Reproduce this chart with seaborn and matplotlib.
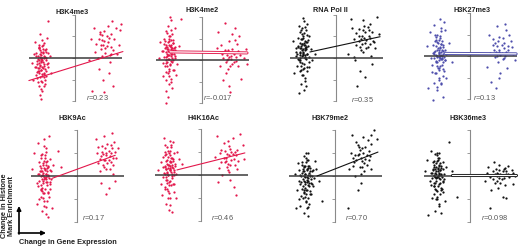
import numpy as np
import pandas as pd
import seaborn as sns
import matplotlib.pyplot as plt

# ---- data: (change in expression, change in mark) ----
titles = ['H3K4me3', 'H3K4me2', 'RNA Pol II', 'H3K27me3',
          'H3K9Ac', 'H4K16Ac', 'H3K79me2', 'H3K36me3']
r_values = ['0.23', '-0.017', '0.35', '0.13', '0.17', '0.46', '0.70', '0.098']

k4me3_left = [(-1.52,-0.15),(-1.41,0.22),(-1.63,-0.48),(-1.48,-0.82),(-1.35,0.05),(-1.58,0.51),(-1.71,-0.3),(-1.45,-1.12),(-1.29,-0.6),(-1.55,0.36),(-1.66,-0.05),(-1.38,-0.35),(-1.5,-1.45),(-1.84,0.18),(-1.22,-0.22),(-1.47,0.85),(-1.6,-0.7),(-1.33,-1.0),(-1.75,-0.42),(-1.43,0.62),(-1.56,-1.7),(-1.12,0.1),(-1.68,-0.95),(-1.39,-0.02),(-1.51,-0.55),(-1.9,-0.25),(-1.27,0.42),(-1.62,-1.3),(-1.44,0.3),(-1.36,-0.75),(-1.58,-0.1),(-1.49,-1.9),(-1.8,0.75),(-1.18,-0.4),(-1.54,1.1),(-1.65,-0.62),(-1.31,0.28),(-1.46,-1.55),(-1.72,0.08),(-1.4,-0.88),(-1.57,-0.32),(-1.05,-0.68),(-1.61,0.45),(-1.34,-1.2),(-1.5,0.0),(-1.87,-1.0),(-1.2,1.7),(-1.43,-0.45),(-1.25,0.95),(-1.53,-0.2)]
k4me3_core = [(-1.45,-0.1),(-1.55,0.05),(-1.4,-0.3),(-1.6,-0.25),(-1.5,0.15),(-1.35,-0.5),(-1.65,0.1),(-1.42,0.4),(-1.58,-0.6),(-1.48,-0.4),(-1.3,0.0),(-1.7,-0.15),(-1.52,0.3),(-1.38,-0.7),(-1.62,-0.45),(-1.45,0.55),(-1.55,-0.9),(-1.25,-0.3),(-1.75,0.25),(-1.4,0.1),(-1.5,-0.55),(-1.6,0.6),(-1.33,0.35),(-1.47,-0.75),(-1.68,-0.65),(-1.43,-0.2),(-1.57,0.2),(-1.28,-0.1),(-1.52,-1.05),(-1.8,-0.4),(-1.36,0.7),(-1.64,-1.1),(-1.46,0.0),(-1.54,-0.35),(-1.2,0.25),(-1.72,-0.8),(-1.4,-1.3),(-1.58,0.45),(-1.3,-0.85),(-1.5,-0.05)]
k4me3_right = [(1.3,0.8),(1.1,1.2),(1.6,0.5),(0.9,0.3),(1.45,1.5),(1.75,0.9),(1.2,0.1),(2.0,1.3),(0.7,0.9),(1.55,-0.2),(1.35,0.45),(1.05,-0.5),(1.85,0.2),(0.6,-0.1),(1.4,1.0),(1.65,1.7),(1.15,0.6),(1.95,0.6),(1.25,-1.0),(0.85,1.4),(1.5,-0.7),(1.7,-1.3),(1.0,0.0),(1.3,-1.6),(0.75,-1.55),(2.05,1.6),(1.6,0.2),(1.2,1.05)]
k4me3_dense = [(1.25,0.6),(1.45,0.75),(1.05,0.9),(1.6,1.1),(1.35,0.25),(1.15,0.4),(1.5,0.95),(0.95,0.65),(1.7,0.35),(1.3,1.25),(1.4,0.55),(1.1,1.1),(1.55,0.15),(1.2,0.85),(1.8,1.4)]

k4me2_left = [(-1.42,0.35),(-1.3,0.8),(-1.55,-0.1),(-1.6,0.6),(-1.35,1.2),(-1.48,-0.5),(-1.2,0.2),(-1.7,1.0),(-1.38,-0.9),(-1.52,1.6),(-1.25,0.55),(-1.65,-0.3),(-1.45,0.05),(-1.1,-0.2),(-1.8,0.4),(-1.33,-1.3),(-1.58,1.35),(-1.4,0.7),(-1.5,-1.7),(-1.28,0.95),(-1.62,0.15),(-1.75,-0.75),(-1.44,2.0),(-1.18,0.45),(-1.36,-0.05),(-1.55,0.28),(-1.9,0.1),(-1.47,-1.1),(-1.22,1.5),(-1.68,0.75),(-1.32,0.4),(-1.5,-0.6),(-1.02,0.65),(-1.6,-2.0),(-1.4,1.85),(-1.26,-0.45),(-1.57,0.5),(-1.45,0.9),(-1.72,-0.15),(-1.3,0.0),(-1.48,1.1),(-1.15,-0.7),(-1.62,-1.45),(-1.38,0.6),(-1.52,0.22),(-1.85,0.85),(-1.43,-0.25),(-1.34,0.3),(-0.95,1.9),(-1.58,-0.95)]
k4me2_core = [(-1.4,0.3),(-1.5,0.5),(-1.35,0.1),(-1.55,0.2),(-1.45,0.7),(-1.3,0.45),(-1.6,0.0),(-1.42,-0.2),(-1.52,0.85),(-1.25,0.3),(-1.65,0.55),(-1.38,0.95),(-1.48,-0.4),(-1.58,0.35),(-1.33,-0.1),(-1.7,0.15),(-1.44,1.1),(-1.2,0.6),(-1.62,-0.55),(-1.4,0.5),(-1.5,0.05),(-1.28,0.8),(-1.55,1.25),(-1.46,-0.75),(-1.36,0.2),(-1.75,0.4),(-1.42,0.65),(-1.58,-0.15),(-1.3,-0.45),(-1.5,0.4),(-1.65,0.9),(-1.38,1.4),(-1.22,0.1),(-1.54,-0.3),(-1.45,0.25),(-1.6,0.7),(-1.35,0.55),(-1.48,1.0),(-1.4,-1.0),(-1.56,0.6)]
k4me2_right = [(1.15,0.05),(0.9,0.3),(1.35,-0.2),(1.6,0.4),(0.7,1.3),(1.2,0.9),(1.85,0.1),(1.05,-0.6),(1.45,1.5),(0.8,-0.3),(1.3,0.2),(1.75,-0.9),(1.0,1.7),(1.55,0.75),(1.2,-1.2),(0.65,0.55),(1.95,0.5),(1.4,-0.1),(1.1,0.0),(1.25,-1.5),(1.65,1.1),(0.95,-0.95),(1.5,0.15),(2.0,-0.2),(1.35,1.2),(1.15,0.45)]
k4me2_dense = [(1.2,0.15),(1.05,-0.1),(1.3,0.05),(1.4,0.3),(1.1,0.25),(1.25,-0.3),(0.95,0.1),(1.5,-0.05),(1.35,0.5),(1.15,-0.4),(1.6,-0.3),(0.85,0.7),(1.45,0.95),(1.0,0.45),(1.7,0.25)]

pol2_left = [(-1.47,0.3),(-1.35,0.75),(-1.6,-0.1),(-1.52,1.1),(-1.28,0.2),(-1.7,0.55),(-1.42,-0.45),(-1.55,0.9),(-1.2,-0.2),(-1.65,1.5),(-1.4,0.05),(-1.8,0.3),(-1.33,1.3),(-1.5,-0.8),(-1.6,0.45),(-1.25,0.85),(-1.45,1.85),(-1.73,-0.35),(-1.38,0.6),(-1.57,-1.2),(-1.1,0.4),(-1.48,0.15),(-1.9,0.8),(-1.3,-0.6),(-1.62,1.2),(-1.43,-1.5),(-1.52,0.65),(-1.18,1.0),(-1.68,-0.05),(-1.37,0.35),(-1.55,-0.55),(-1.27,1.6),(-1.45,0.95),(-1.78,0.1),(-1.4,-0.95),(-1.6,0.25),(-1.32,0.5),(-1.5,1.4),(-1.05,-0.1),(-1.65,-1.65),(-1.42,0.7),(-1.22,-0.4),(-1.58,0.0),(-1.35,-1.3),(-1.48,0.4),(-1.85,-0.7),(-1.3,1.05),(-1.53,-0.25),(-0.95,0.2),(-1.44,1.7)]
pol2_core = [(-1.45,0.25),(-1.55,0.45),(-1.4,0.0),(-1.6,0.15),(-1.5,0.65),(-1.35,0.4),(-1.65,-0.1),(-1.42,-0.3),(-1.52,0.9),(-1.3,0.2),(-1.7,0.5),(-1.38,0.8),(-1.48,-0.5),(-1.58,0.3),(-1.33,-0.05),(-1.75,0.2),(-1.44,1.15),(-1.25,0.55),(-1.62,-0.6),(-1.4,0.45),(-1.5,0.1),(-1.28,0.75),(-1.55,1.3),(-1.46,-0.8),(-1.36,0.15),(-1.8,0.45),(-1.42,0.6),(-1.58,-0.2),(-1.3,-0.4),(-1.5,0.35),(-1.68,0.95),(-1.4,1.45),(-1.2,0.05),(-1.54,-0.35),(-1.45,0.2),(-1.62,0.7),(-1.35,0.5),(-1.48,1.0),(-1.4,-1.05),(-1.56,0.55)]
pol2_right = [(1.1,0.9),(1.3,1.2),(0.9,0.6),(1.5,1.6),(1.2,0.3),(0.7,1.4),(1.65,0.8),(1.0,1.0),(1.4,0.5),(1.8,1.9),(0.55,0.2),(1.25,1.5),(1.55,0.1),(0.85,-0.1),(1.35,0.85),(1.9,1.1),(1.05,-0.6),(1.45,1.3),(0.65,1.8),(1.6,-0.3),(1.15,0.65),(1.75,0.45),(0.95,-1.3),(1.3,-0.9),(1.2,1.75),(1.5,0.95),(0.8,0.05),(1.0,1.35)]
pol2_dense = [(1.15,1.0),(1.3,0.7),(1.0,0.8),(1.45,1.0),(1.2,1.3),(0.9,1.15),(1.35,0.45),(1.6,1.2),(1.05,0.5),(1.25,0.95),(1.5,0.65),(0.8,0.9),(1.4,1.45),(1.1,0.35),(1.7,0.75)]

k27me3_left = [(-1.33,0.0),(-1.2,0.4),(-1.45,-0.3),(-1.5,0.9),(-1.15,-0.7),(-1.6,0.2),(-1.3,1.3),(-1.4,-1.1),(-1.05,0.1),(-1.7,-0.4),(-1.25,0.7),(-1.55,-0.8),(-1.35,1.7),(-1.1,-0.2),(-1.65,0.5),(-1.45,-1.6),(-1.22,0.25),(-1.8,1.1),(-1.38,-0.55),(-1.5,0.05),(-0.95,0.6),(-1.28,-1.3),(-1.6,1.45),(-1.42,0.35),(-1.18,-0.95),(-1.75,-0.1),(-1.32,0.95),(-1.5,-0.25),(-1.1,1.2),(-1.62,-1.25),(-1.36,0.15),(-1.25,-0.4),(-1.9,0.45),(-1.45,0.65),(-1.2,-1.9),(-1.55,1.0),(-1.3,-0.15),(-1.7,-0.75),(-1.4,0.3),(-0.8,-0.3),(-1.58,0.1),(-1.15,1.6),(-1.48,-1.45),(-1.28,0.55),(-1.65,-2.05),(-1.38,-0.05),(-1.05,-1.0),(-1.52,0.75),(-1.85,-1.5),(-1.25,0.0)]
k27me3_core = [(-1.3,0.05),(-1.4,0.2),(-1.25,-0.15),(-1.45,-0.05),(-1.35,0.4),(-1.2,0.1),(-1.5,-0.3),(-1.32,-0.45),(-1.42,0.6),(-1.15,-0.05),(-1.55,0.25),(-1.28,0.55),(-1.38,-0.65),(-1.48,0.0),(-1.22,-0.3),(-1.6,-0.1),(-1.34,0.85),(-1.1,0.3),(-1.52,-0.8),(-1.3,0.2),(-1.4,-0.2),(-1.18,0.5),(-1.45,1.0),(-1.36,-1.0),(-1.26,-0.1),(-1.65,0.15),(-1.32,0.35),(-1.48,-0.45),(-1.2,-0.6),(-1.4,0.1),(-1.55,0.7),(-1.3,1.15),(-1.12,-0.2),(-1.44,-0.55),(-1.35,-0.1),(-1.5,0.45),(-1.25,0.3),(-1.38,0.75),(-1.3,-1.25),(-1.46,0.3)]
k27me3_right = [(1.3,0.2),(1.1,0.6),(1.5,-0.1),(0.85,1.0),(1.7,0.45),(1.2,1.4),(1.45,0.85),(0.75,-0.5),(1.9,0.1),(1.35,-0.8),(1.05,0.3),(1.6,1.2),(1.25,-0.3),(0.95,-1.2),(1.8,0.7),(1.4,0.5),(1.15,-1.5),(2.0,-0.2),(1.55,1.5),(0.9,0.15),(1.3,-1.0),(1.65,-0.55),(1.0,0.8),(1.75,1.0),(1.2,0.0),(1.5,0.35)]
k27me3_dense = [(1.3,0.3),(1.4,0.15),(1.2,0.45),(1.5,0.6),(1.1,-0.05),(1.35,0.05),(1.6,0.2),(1.25,0.7),(1.45,-0.15),(1.0,0.5),(1.7,0.3),(1.15,0.2),(1.55,0.0),(1.3,0.9),(1.85,0.4)]

k9ac_left = [(-1.42,-0.1),(-1.3,0.4),(-1.55,-0.5),(-1.6,0.8),(-1.25,-0.9),(-1.7,0.1),(-1.38,1.2),(-1.48,-1.3),(-1.15,0.2),(-1.8,-0.3),(-1.35,0.65),(-1.5,-0.75),(-1.45,1.6),(-1.2,-0.35),(-1.65,0.45),(-1.4,-1.65),(-1.28,0.0),(-1.9,1.0),(-1.52,-0.2),(-1.33,-1.1),(-1.05,0.5),(-1.62,-0.6),(-1.44,0.25),(-1.75,1.45),(-1.22,-0.55),(-1.58,0.9),(-1.36,-0.25),(-1.5,0.55),(-1.1,-1.4),(-1.68,-1.0),(-1.4,0.1),(-1.3,-0.7),(-2.0,0.3),(-1.48,1.3),(-1.18,0.75),(-1.56,-1.5),(-1.34,0.35),(-1.72,-0.45),(-1.46,-0.05),(-0.85,1.1),(-1.62,0.2),(-1.26,1.75),(-1.5,-0.95),(-1.38,0.6),(-1.8,-1.2),(-1.15,-0.15),(-1.54,0.05),(-1.3,-1.8),(-1.42,0.9),(-0.7,0.4)]
k9ac_core = [(-1.4,-0.05),(-1.5,0.15),(-1.35,-0.25),(-1.55,-0.15),(-1.45,0.35),(-1.3,0.05),(-1.6,-0.4),(-1.42,-0.55),(-1.52,0.5),(-1.25,-0.1),(-1.65,0.2),(-1.38,0.5),(-1.48,-0.75),(-1.58,0.0),(-1.33,-0.4),(-1.7,-0.2),(-1.44,0.8),(-1.2,0.25),(-1.62,-0.9),(-1.4,0.1),(-1.5,-0.3),(-1.28,0.45),(-1.55,0.95),(-1.46,-1.1),(-1.36,-0.15),(-1.75,0.1),(-1.42,0.3),(-1.58,-0.55),(-1.3,-0.75),(-1.5,0.05),(-1.68,0.6),(-1.38,1.05),(-1.22,-0.25),(-1.54,-0.65),(-1.45,-0.15),(-1.62,0.35),(-1.35,0.2),(-1.48,0.65),(-1.4,-1.35),(-1.56,0.2)]
k9ac_right = [(1.3,0.9),(1.1,1.3),(1.5,0.6),(0.9,1.0),(1.65,1.5),(1.2,0.4),(1.4,1.1),(1.75,0.8),(1.0,0.2),(1.55,1.85),(1.25,0.7),(0.85,1.6),(1.6,0.1),(1.35,1.4),(1.05,-0.3),(1.8,1.2),(1.45,0.3),(1.15,0.95),(0.95,0.55),(1.7,-0.2),(1.3,-0.8),(1.5,1.0),(1.2,1.75),(1.4,-0.5),(1.0,0.75),(1.6,0.5)]
k9ac_dense = [(1.3,1.0),(1.2,0.7),(1.45,0.85),(1.1,1.05),(1.35,0.55),(1.55,1.2),(1.25,1.2),(1.4,0.7),(1.05,0.85),(1.6,0.8),(1.15,0.5),(1.5,1.35),(1.3,0.3),(0.95,1.25),(1.7,1.05)]

k16ac_left = [(-1.38,0.2),(-1.25,0.6),(-1.5,-0.2),(-1.55,0.9),(-1.2,-0.4),(-1.62,0.35),(-1.32,1.2),(-1.45,-0.7),(-1.1,0.05),(-1.7,-0.1),(-1.3,0.75),(-1.48,-1.0),(-1.4,1.5),(-1.15,0.4),(-1.6,-0.5),(-1.36,-1.3),(-1.22,0.95),(-1.8,0.55),(-1.5,0.1),(-1.28,-0.15),(-1.0,0.7),(-1.58,1.3),(-1.42,0.45),(-1.72,-0.85),(-1.18,-0.75),(-1.52,0.65),(-1.35,-0.45),(-1.45,0.0),(-1.05,1.0),(-1.65,1.6),(-1.4,0.3),(-1.3,-1.6),(-1.9,0.2),(-1.48,1.05),(-1.2,0.15),(-1.55,-1.25),(-1.33,0.55),(-1.68,0.8),(-1.44,-0.3),(-0.85,0.5),(-1.6,0.05),(-1.25,1.45),(-1.5,-0.6),(-1.38,0.85),(-1.78,-0.4),(-1.12,-1.0),(-1.54,0.25),(-1.3,0.35),(-1.42,-1.5),(-1.62,1.0)]
k16ac_core = [(-1.36,0.25),(-1.46,0.45),(-1.3,0.05),(-1.5,0.15),(-1.4,0.6),(-1.25,0.3),(-1.55,-0.1),(-1.38,-0.25),(-1.48,0.8),(-1.2,0.2),(-1.6,0.4),(-1.34,0.75),(-1.44,-0.45),(-1.54,0.25),(-1.28,-0.05),(-1.65,0.1),(-1.4,1.05),(-1.16,0.5),(-1.58,-0.6),(-1.36,0.4),(-1.46,0.0),(-1.24,0.7),(-1.5,1.2),(-1.42,-0.8),(-1.32,0.15),(-1.7,0.35),(-1.38,0.55),(-1.54,-0.2),(-1.26,-0.4),(-1.46,0.3),(-1.62,0.85),(-1.34,1.3),(-1.18,0.0),(-1.5,-0.35),(-1.4,0.2),(-1.56,0.6),(-1.3,0.45),(-1.44,0.95),(-1.36,-1.0),(-1.52,0.5)]
k16ac_right = [(1.1,0.75),(0.9,1.1),(1.3,0.45),(0.7,1.7),(1.5,1.0),(1.2,0.2),(1.0,1.4),(1.65,0.6),(0.8,0.3),(1.4,1.6),(1.15,0.9),(0.6,0.8),(1.85,1.3),(1.3,-0.2),(0.95,0.0),(1.55,0.85),(1.25,1.25),(1.75,1.8),(1.05,0.55),(1.45,-0.5),(0.75,-0.3),(1.6,0.25),(1.9,0.7),(1.2,1.5),(1.35,0.65),(1.55,-0.85)]
k16ac_dense = [(1.1,0.6),(1.25,0.85),(1.0,0.75),(1.35,1.0),(1.2,0.5),(1.45,0.7),(0.9,0.55),(1.3,1.15),(1.15,0.35),(1.5,0.45),(1.05,1.05),(1.4,0.9),(0.85,0.95),(1.6,1.1),(1.25,0.15)]

k79me2_left = [(-1.24,-0.17),(-1.1,0.2),(-1.35,-0.5),(-1.4,0.4),(-1.05,-0.8),(-1.5,0.0),(-1.2,0.7),(-1.3,-1.1),(-0.95,-0.1),(-1.55,-0.35),(-1.15,0.45),(-1.38,-0.75),(-1.28,1.0),(-1.0,-0.45),(-1.6,0.25),(-1.25,-1.4),(-1.12,0.05),(-1.7,-0.6),(-1.42,-0.15),(-1.18,-0.95),(-0.85,0.3),(-1.48,0.6),(-1.32,0.1),(-1.62,-1.0),(-1.08,-0.3),(-1.45,-0.55),(-1.22,0.35),(-1.35,-0.25),(-0.9,0.65),(-1.55,-1.3),(-1.28,-0.6),(-1.15,-1.2),(-1.8,0.1),(-1.38,0.45),(-1.02,0.0),(-1.5,-0.85),(-1.26,-0.05),(-1.65,0.55),(-1.4,-1.6),(-0.7,-0.2),(-1.2,-0.4),(-1.58,-0.2),(-1.3,0.8),(-1.1,-0.65),(-1.75,-1.4),(-0.98,0.25),(-1.44,0.2),(-1.2,-1.75),(-1.34,-0.9),(-0.6,-1.1)]
k79me2_core = [(-1.22,-0.1),(-1.32,0.1),(-1.16,-0.3),(-1.36,-0.2),(-1.26,0.3),(-1.1,0.0),(-1.42,-0.45),(-1.24,-0.6),(-1.34,0.45),(-1.06,-0.15),(-1.46,0.15),(-1.2,0.45),(-1.3,-0.8),(-1.4,0.0),(-1.14,-0.45),(-1.52,-0.25),(-1.26,0.7),(-1.02,0.2),(-1.44,-0.95),(-1.22,0.05),(-1.32,-0.35),(-1.1,0.35),(-1.36,0.85),(-1.28,-1.15),(-1.18,-0.2),(-1.56,0.05),(-1.24,0.25),(-1.4,-0.6),(-1.12,-0.8),(-1.32,-0.05),(-1.48,0.5),(-1.2,1.0),(-1.04,-0.35),(-1.36,-0.7),(-1.26,-0.25),(-1.42,0.3),(-1.16,0.15),(-1.3,0.6),(-1.22,-1.35),(-1.38,0.2)]
k79me2_right = [(1.0,0.9),(0.85,0.6),(1.2,1.2),(0.7,1.0),(1.35,0.75),(0.95,1.5),(1.5,1.1),(1.1,0.4),(0.6,0.3),(1.25,1.7),(1.6,1.4),(0.9,0.0),(1.4,0.5),(1.05,1.25),(1.75,2.0),(0.75,1.8),(1.3,0.2),(1.55,0.85),(1.15,-0.3),(0.8,0.8),(1.45,1.55),(1.85,1.6),(1.0,-0.6),(1.2,0.65),(0.58,-1.4),(1.6,0.3)]
k79me2_dense = [(1.05,0.95),(1.15,0.8),(0.95,0.7),(1.25,1.0),(1.1,1.15),(0.9,0.9),(1.3,0.55),(1.2,0.4),(1.4,0.9),(1.0,1.35),(1.35,1.25),(0.8,0.45),(1.5,0.7),(1.15,0.1),(1.6,1.8)]

k36me3_left = [(-1.42,0.0),(-1.3,0.35),(-1.55,-0.3),(-1.6,0.5),(-1.25,-0.55),(-1.7,0.15),(-1.38,0.8),(-1.48,-0.9),(-1.15,0.1),(-1.8,-0.2),(-1.35,0.55),(-1.5,-0.6),(-1.45,1.0),(-1.2,-0.25),(-1.65,0.3),(-1.4,-1.3),(-1.28,0.05),(-1.9,0.7),(-1.52,-0.1),(-1.33,-0.8),(-1.05,0.4),(-1.62,-0.45),(-1.44,0.2),(-1.75,1.1),(-1.22,-0.7),(-1.58,0.65),(-1.36,-0.35),(-1.5,0.4),(-1.1,-1.1),(-1.68,-0.95),(-1.4,0.1),(-1.3,-0.5),(-2.0,0.2),(-1.48,0.9),(-1.18,0.6),(-1.56,-1.5),(-1.34,0.25),(-1.72,-0.4),(-1.46,-0.05),(-0.8,0.2),(-1.62,0.05),(-0.95,1.5),(-1.5,-1.0),(-1.38,0.45),(-1.85,-1.7),(-1.15,-0.15),(-1.54,0.15),(-1.3,-1.6),(-1.42,0.7),(-0.6,-0.9)]
k36me3_core = [(-1.4,0.05),(-1.5,0.2),(-1.34,-0.15),(-1.55,-0.05),(-1.44,0.35),(-1.28,0.1),(-1.6,-0.3),(-1.42,-0.45),(-1.52,0.55),(-1.24,-0.05),(-1.65,0.25),(-1.38,0.5),(-1.48,-0.65),(-1.58,0.0),(-1.32,-0.3),(-1.7,-0.1),(-1.44,0.8),(-1.2,0.3),(-1.62,-0.8),(-1.4,0.15),(-1.5,-0.2),(-1.28,0.45),(-1.55,0.95),(-1.46,-1.0),(-1.36,-0.1),(-1.75,0.15),(-1.42,0.3),(-1.58,-0.45),(-1.3,-0.6),(-1.5,0.1),(-1.66,0.6),(-1.38,1.0),(-1.22,-0.2),(-1.54,-0.55),(-1.45,-0.05),(-1.62,0.4),(-1.35,0.25),(-1.48,0.65),(-1.4,-1.2),(-1.56,0.3)]
k36me3_right = [(1.2,0.0),(1.0,0.2),(1.4,-0.15),(0.8,0.4),(1.6,0.1),(1.3,0.5),(1.1,-0.3),(1.75,-0.05),(0.65,-0.2),(1.5,0.3),(1.25,-0.5),(0.9,-0.05),(1.85,0.25),(1.35,0.1),(1.05,0.6),(1.55,-0.4),(2.0,0.0),(0.75,0.15),(1.45,-0.9),(1.15,0.3),(1.7,0.45),(0.95,-0.6),(1.3,-0.1),(1.9,-0.35),(1.6,-0.95),(1.2,0.15),(0.9,-1.4)]
k36me3_dense = [(1.25,0.1),(1.4,0.05),(1.1,0.1),(1.5,-0.1),(1.3,0.25),(1.6,0.2),(1.2,-0.2),(1.7,0.1),(1.0,-0.15),(1.45,0.2),(1.35,-0.3),(1.8,0.05),(0.85,0.05),(1.55,0.35),(1.9,0.15)]

clouds = [k4me3_left + k4me3_core + k4me3_right + k4me3_dense,
          k4me2_left + k4me2_core + k4me2_right + k4me2_dense,
          pol2_left + pol2_core + pol2_right + pol2_dense,
          k27me3_left + k27me3_core + k27me3_right + k27me3_dense,
          k9ac_left + k9ac_core + k9ac_right + k9ac_dense,
          k16ac_left + k16ac_core + k16ac_right + k16ac_dense,
          k79me2_left + k79me2_core + k79me2_right + k79me2_dense,
          k36me3_left + k36me3_core + k36me3_right + k36me3_dense]

# regression line end points (x, y)
fit_x = [(-2.05, 2.13), (-1.42, 2.0), (-1.16, 1.96), (-1.1, 2.05),
         (-1.1, 1.7), (-1.07, 1.95), (-0.8, 1.91), (-0.8, 2.05)]
fit_y = [(-1.05, 0.3), (0.38, 0.33), (0.28, 0.99), (0.12, 0.1),
         (-0.1, 0.9), (0.22, 0.96), (0.0, 1.04), (0.05, 0.05)]

# ---- styling / layout ----
RED, BLUE, BLK = '#e3174b', '#4d4dab', '#111111'
dot_colors = [RED, RED, BLK, BLUE, RED, RED, BLK, BLK]
band = [False, True, False, True, False, False, False, True]
origins = [(75, 58), (202, 60), (336, 58), (470, 56),
           (77, 176), (201, 175), (335, 176), (470, 176)]
title_pos = [(72, 12), (202, 11), (330, 11), (472, 11),
             (72, 118), (203, 118), (330, 118), (468, 118)]
r_pos = [(86, 98), (203, 98), (351, 100), (473, 98),
         (82, 218), (211, 218), (345, 218), (481, 218)]
W, H = 520, 246
XS = 22.5

sns.set_theme(style="white", rc={"axes.facecolor": (0, 0, 0, 0)})
plt.rcParams['font.family'] = ['Liberation Sans', 'DejaVu Sans']
plt.rcParams['mathtext.fontset'] = 'custom'
plt.rcParams['mathtext.it'] = 'Liberation Sans:italic'
plt.rcParams['mathtext.rm'] = 'Liberation Sans'

fig = plt.figure(figsize=(W / 100, H / 100), dpi=100)

for i in range(8):
    vx, vy = origins[i]
    ys = 21.5 if i < 4 else 23.0
    ax = fig.add_axes([(vx - 2.8 * XS) / W, 1 - (vy + 2.5 * ys) / H,
                       5.6 * XS / W, 5.0 * ys / H])
    df = pd.DataFrame(clouds[i], columns=['expr', 'mark'])
    sns.scatterplot(data=df, x='expr', y='mark', ax=ax, color=dot_colors[i],
                    s=2.6, linewidth=0, legend=False, zorder=2)
    ax.hlines(0, -2.05, 2.1, color='#3a3a3a', lw=1.1, zorder=3)
    if band[i]:
        sns.lineplot(x=list(fit_x[i]), y=list(fit_y[i]), ax=ax,
                     color=dot_colors[i], lw=2.2, zorder=4)
        sns.lineplot(x=list(fit_x[i]), y=list(fit_y[i]), ax=ax,
                     color='white', lw=0.9, zorder=5)
    else:
        sns.lineplot(x=list(fit_x[i]), y=list(fit_y[i]), ax=ax,
                     color=dot_colors[i], lw=0.8, zorder=4)
    ax.set_xlim(-2.8, 2.8)
    ax.set_ylim(-2.5, 2.5)
    for s in ['top', 'right', 'bottom']:
        ax.spines[s].set_visible(False)
    ax.spines['left'].set_position(('data', 0))
    ax.spines['left'].set_bounds(-2, 2)
    ax.spines['left'].set_color('#8a8a8a')
    ax.spines['left'].set_linewidth(0.8)
    ax.set_xticks([])
    ax.set_yticks([-2, -1, 0, 1, 2])
    ax.set_yticklabels([])
    ax.tick_params(axis='y', left=True, length=2, width=0.6,
                   color='#8a8a8a', direction='out')
    ax.set_xlabel('')
    ax.set_ylabel('')

    tx, ty = title_pos[i]
    fig.text(tx / W, 1 - ty / H, titles[i], ha='center', va='center',
             fontsize=5.2, fontweight='bold', color='#222222')
    rx, ry = r_pos[i]
    fig.text(rx / W, 1 - ry / H, '$r$=' + r_values[i], ha='left', va='center',
             fontsize=5.3, color='#555555')

# axis key in the lower left corner
fig.text(8 / W, 1 - 206 / H, 'Change in Histone\nMark Enrichment', rotation=90,
         ha='center', va='center', fontsize=5.3, fontweight='bold',
         linespacing=1.0, color='#222222')
fig.text(68 / W, 1 - 242 / H, 'Change in Gene Expression', ha='center',
         va='center', fontsize=5.3, fontweight='bold', color='#222222')
arrow = dict(arrowstyle='-|>', lw=1.2, color='black', mutation_scale=6,
             shrinkA=0, shrinkB=0)
fig.add_artist(plt.Annotation('', xy=(19 / W, 1 - 206 / H), xytext=(19 / W, 1 - 234 / H),
                              xycoords='figure fraction', arrowprops=arrow))
fig.add_artist(plt.Annotation('', xy=(46 / W, 1 - 233 / H), xytext=(18.4 / W, 1 - 233 / H),
                              xycoords='figure fraction', arrowprops=arrow))

fig.savefig('out.png', dpi=100)
